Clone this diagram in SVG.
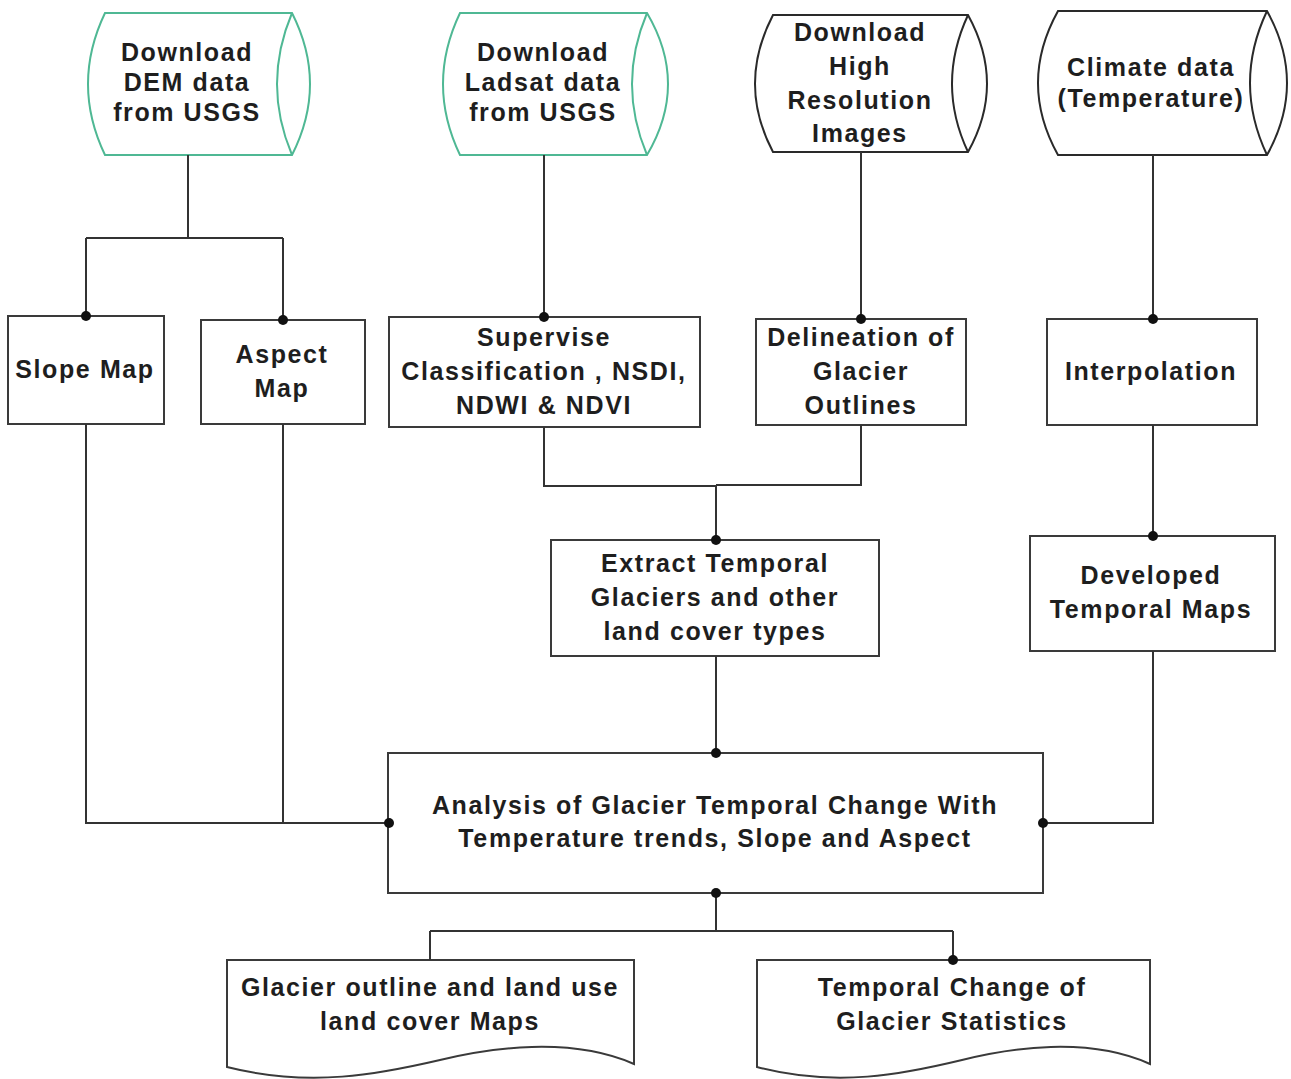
<svg xmlns="http://www.w3.org/2000/svg" width="1291" height="1079" viewBox="0 0 1291 1079">
<style>
.bg{fill:#ffffff}
.node{fill:#ffffff;stroke:#3a3a3a;stroke-width:2}
.cylg{fill:#ffffff;stroke:#4fb894;stroke-width:2}
.cylk{fill:#ffffff;stroke:#2a2a2a;stroke-width:2}
.innerg{fill:none;stroke:#4fb894;stroke-width:2}
.innerk{fill:none;stroke:#2a2a2a;stroke-width:2}
.wire{fill:none;stroke:#333333;stroke-width:2}
.dot{fill:#111111}
text{font-family:"Liberation Sans",Arial,sans-serif;font-weight:bold;font-size:25px;letter-spacing:1.6px;fill:#1e1e1e;text-anchor:middle;dominant-baseline:central}
</style>
<rect class="bg" x="0" y="0" width="1291" height="1079"/>

<g id="dem">
  <path class="cylg" d="M105,13 H292 Q328,84 292,155 H105 Q71,84 105,13 Z"/>
  <path class="innerg" d="M292,13 Q262,84 292,155"/>
  <text x="187" y="52">Download</text>
  <text x="187" y="82">DEM data</text>
  <text x="187" y="112">from USGS</text>
</g>

<g id="ladsat">
  <path class="cylg" d="M460,13 H647 Q689,84 647,155 H460 Q426,84 460,13 Z"/>
  <path class="innerg" d="M647,13 Q617,84 647,155"/>
  <text x="543" y="52">Download</text>
  <text x="543" y="82">Ladsat data</text>
  <text x="543" y="112">from USGS</text>
</g>

<g id="highres">
  <path class="cylk" d="M773,15 H968 Q1006,84 968,152 H773 Q737,84 773,15 Z"/>
  <path class="innerk" d="M968,15 Q936,84 968,152"/>
  <text x="860" y="32">Download</text>
  <text x="860" y="66">High</text>
  <text x="860" y="100">Resolution</text>
  <text x="860" y="133">Images</text>
</g>

<g id="climate">
  <path class="cylk" d="M1058,11 H1267 Q1307,83 1267,155 H1058 Q1018,83 1058,11 Z"/>
  <path class="innerk" d="M1267,11 Q1233,83 1267,155"/>
  <text x="1151" y="67">Climate data</text>
  <text x="1151" y="98">(Temperature)</text>
</g>

<g id="slope">
  <rect class="node" x="8" y="316" width="156" height="108"/>
  <text x="85" y="369">Slope Map</text>
</g>

<g id="aspect">
  <rect class="node" x="201" y="320" width="164" height="104"/>
  <text x="282" y="354">Aspect</text>
  <text x="282" y="388">Map</text>
</g>

<g id="supervise">
  <rect class="node" x="389" y="317" width="311" height="110"/>
  <text x="544" y="337">Supervise</text>
  <text x="544" y="371">Classification , NSDI,</text>
  <text x="544" y="405">NDWI &amp; NDVI</text>
</g>

<g id="delineation">
  <rect class="node" x="756" y="319" width="210" height="106"/>
  <text x="861" y="337">Delineation of</text>
  <text x="861" y="371">Glacier</text>
  <text x="861" y="405">Outlines</text>
</g>

<g id="interpolation">
  <rect class="node" x="1047" y="319" width="210" height="106"/>
  <text x="1151" y="371">Interpolation</text>
</g>

<g id="extract">
  <rect class="node" x="551" y="540" width="328" height="116"/>
  <text x="715" y="563">Extract Temporal</text>
  <text x="715" y="597">Glaciers and other</text>
  <text x="715" y="631">land cover types</text>
</g>

<g id="developed">
  <rect class="node" x="1030" y="536" width="245" height="115"/>
  <text x="1151" y="575">Developed</text>
  <text x="1151" y="609">Temporal Maps</text>
</g>

<g id="analysis">
  <rect class="node" x="388" y="753" width="655" height="140"/>
  <text x="715" y="805">Analysis of Glacier Temporal Change With</text>
  <text x="715" y="838">Temperature trends, Slope and Aspect</text>
</g>

<g id="outline-maps">
  <path class="node" d="M227,960 H634 V1064 C570,1036 490,1048 440,1060 C380,1074 310,1088 227,1067 Z"/>
  <text x="430" y="987">Glacier outline and land use</text>
  <text x="430" y="1021">land cover Maps</text>
</g>

<g id="statistics">
  <path class="node" d="M757,960 H1150 V1064 C1088,1036 1010,1048 962,1060 C904,1074 836,1088 757,1067 Z"/>
  <text x="952" y="987">Temporal Change of</text>
  <text x="952" y="1021">Glacier Statistics</text>
</g>

<g id="connectors">
  <path class="wire" d="M188,155 V238 M86,238 H283 M86,238 V316 M283,238 V320"/>
  <path class="wire" d="M544,155 V317"/>
  <path class="wire" d="M861,152 V319"/>
  <path class="wire" d="M1153,155 V319"/>
  <path class="wire" d="M544,427 V486 H716 M861,425 V485 H716 M716,485 V540"/>
  <path class="wire" d="M1153,425 V536"/>
  <path class="wire" d="M716,656 V753"/>
  <path class="wire" d="M86,424 V823 H388 M283,424 V823"/>
  <path class="wire" d="M1153,651 V823 H1043"/>
  <path class="wire" d="M716,893 V931 M430,931 H953 M430,931 V960 M953,931 V960"/>
  <circle class="dot" cx="86" cy="316" r="5"/>
  <circle class="dot" cx="283" cy="320" r="5"/>
  <circle class="dot" cx="544" cy="317" r="5"/>
  <circle class="dot" cx="861" cy="319" r="5"/>
  <circle class="dot" cx="1153" cy="319" r="5"/>
  <circle class="dot" cx="716" cy="540" r="5"/>
  <circle class="dot" cx="1153" cy="536" r="5"/>
  <circle class="dot" cx="716" cy="753" r="5"/>
  <circle class="dot" cx="389" cy="823" r="5"/>
  <circle class="dot" cx="1043" cy="823" r="5"/>
  <circle class="dot" cx="716" cy="893" r="5"/>
  <circle class="dot" cx="953" cy="960" r="5"/>
</g>
</svg>
